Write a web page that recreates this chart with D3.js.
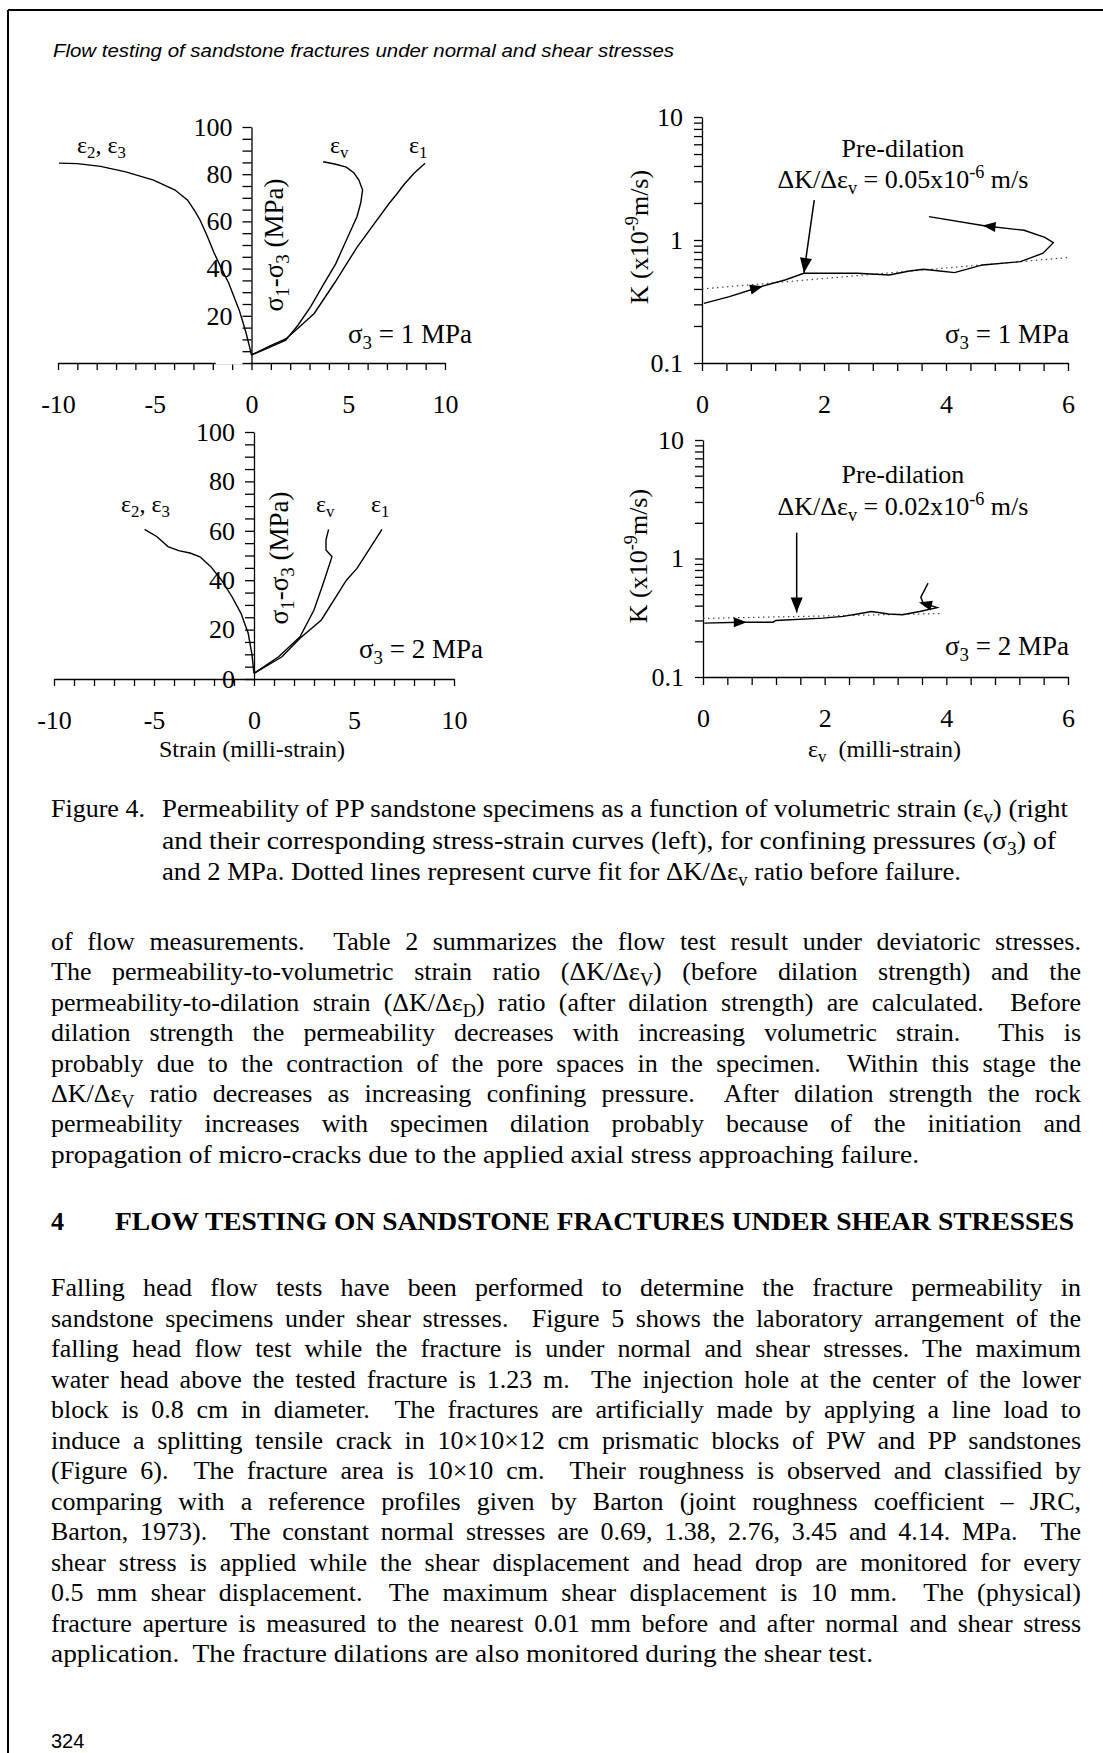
<!DOCTYPE html>
<html lang="en">
<head>
<meta charset="UTF-8">
<title>Figure 4 - Permeability of PP sandstone specimens</title>
<script src="https://d3js.org/d3.v7.min.js"></script>
<style>
  body { margin: 0; background: #fff; }
  svg { display: block; }
  text { font-family: "Liberation Serif", "Times New Roman", serif; fill: #000; white-space: pre; }
  .axis path, .axis line { stroke: #000; stroke-width: 1.3; }
  .axis text { font-family: "Liberation Serif", "Times New Roman", serif; font-size: 26px; }
  .curve { fill: none; stroke: #000; stroke-width: 1.4; }
  .fit { fill: none; stroke: #444; stroke-width: 1.2; stroke-dasharray: 1.5 3.5; }
  .body { font-size: 26px; }
  .header { font-family: "Liberation Sans", Arial, sans-serif; font-style: italic; font-size: 18px; }
</style>
</head>
<body>
<div id="page"></div>
<script>
// ---- axis ticks ----
const strainTicks = d3.range(-10, 11, 1);
const strainLabels = [-10, -5, 0, 5, 10];
const stressTicks = d3.range(0, 101, 5);
const stressLabelsTop = [20, 40, 60, 80, 100];
const stressLabelsBottom = [0, 20, 40, 60, 80, 100];
const evTicks = d3.range(0, 16).map(i => i * 0.4);
const evLabels = [0, 2, 4, 6];
const kTicks = [0.1, 1].flatMap(d => d3.range(1, 10).map(k => k * d)).concat([10]);
const kLabels = [0.1, 1, 10];

// ---- stress-strain curves, sigma3 = 1 MPa  [strain, sigma1-sigma3] ----
const s1Lateral = [[-9.95,84.7],[-9,84.5],[-7.8,83.3],[-6.5,81],[-5.06,77.5],[-3.95,73.3],[-3.3,69],[-2.9,64],
  [-2.66,60.6],[-2.3,54],[-1.93,46.6],[-1.55,40],[-1.18,33.9],[-0.9,28],[-0.64,22.5],[-0.45,17.5],[-0.28,12.7],[-0.12,7.5],[0,3.4]];
const s1Volumetric = [[0,3.4],[0.9,6.5],[1.77,9.7],[2.4,16],[3.06,23.9],[3.7,33],[4.35,42],[4.9,52],[5.45,62],
  [5.65,68],[5.74,73.3],[5.55,77.5],[5.3,80.5],[4.9,83],[4.3,84.3],[3.7,85.3]];
const s1Axial = [[0,3.4],[0.9,7],[1.77,10.2],[2.5,15.5],[3.24,21],[4.3,34],[5.45,49],[6.3,58.5],[7.12,67.7],
  [7.5,71.5],[7.86,75.4],[8.4,80.4],[8.97,84.6]];
// scan gap in the strain axis of the upper plot [from, to]
const s1AxisGap = [-1.85, -0.05];

// ---- stress-strain curves, sigma3 = 2 MPa ----
const s2Lateral = [[-5.47,60.6],[-4.85,57.6],[-4.3,53.6],[-3.77,52],[-3.2,51],[-2.7,49.5],[-2.16,45.5],[-1.63,40.1],
  [-1.1,33.3],[-0.65,26.6],[-0.29,18.5],[-0.11,10.4],[0,2.3]];
const s2Volumetric = [[0,2.3],[1.23,9],[2.3,17.1],[3.0,27.9],[3.46,38.7],[3.9,49.5],[3.6,52.2],[3.6,56.3],[3.73,60.6]];
const s2Axial = [[0,2.3],[1.4,9],[2.3,16.5],[3.37,23.9],[4.62,40],[5.15,44.8],[6.4,60.6]];

// ---- permeability vs volumetric strain  [ev, K] ----
const k1Curve = [[0.03,0.305],[0.45,0.346],[0.96,0.417],[1.36,0.473],[1.67,0.536],[2.2,0.536],[2.55,0.536],[3.07,0.519],
  [3.4,0.56],[3.63,0.578],[3.9,0.56],[4.14,0.543],[4.6,0.627],[5.22,0.667],[5.59,0.78],[5.76,0.95],[5.62,1.05],
  [5.28,1.2],[4.65,1.3],[3.72,1.55]];
const k1Fit = [[0,0.40],[6,0.72]];
const k1Arrows = [[[0.7,0.385],[1.0,0.42]], [[5.0,1.25],[4.6,1.31]]];
const k1Pointer = [[1.84,2.11],[1.67,0.54]];

const k2Curve = [[0.02,0.285],[0.61,0.29],[1.15,0.29],[1.2,0.30],[1.97,0.314],[2.3,0.325],[2.54,0.34],[2.77,0.357],
  [3.05,0.34],[3.28,0.335],[3.56,0.357],[3.85,0.385],[3.62,0.42],[3.58,0.47],[3.7,0.62]];
const k2Fit = [[0,0.312],[3.9,0.343]];
const k2Arrows = [[[0.3,0.29],[0.72,0.29]], [[3.85,0.39],[3.55,0.425]]];
const k2Pointer = [[1.54,1.65],[1.54,0.35]];

// ---- page text ----
const captionLines = [
  "Permeability of PP sandstone specimens as a function of volumetric strain (ε_{v}) (right",
  "and their corresponding stress-strain curves (left), for confining pressures (σ_{3}) of",
  "and 2 MPa. Dotted lines represent curve fit for ΔK/Δε_{v} ratio before failure."
];
const para1 = [
  "of flow measurements.  Table 2 summarizes the flow test result under deviatoric stresses.",
  "The permeability-to-volumetric strain ratio (ΔK/Δε_{V}) (before dilation strength) and the",
  "permeability-to-dilation strain (ΔK/Δε_{D}) ratio (after dilation strength) are calculated.  Before",
  "dilation strength the permeability decreases with increasing volumetric strain.  This is",
  "probably due to the contraction of the pore spaces in the specimen.  Within this stage the",
  "ΔK/Δε_{V} ratio decreases as increasing confining pressure.  After dilation strength the rock",
  "permeability increases with specimen dilation probably because of the initiation and",
  "propagation of micro-cracks due to the applied axial stress approaching failure."
];
const para2 = [
  "Falling head flow tests have been performed to determine the fracture permeability in",
  "sandstone specimens under shear stresses.  Figure 5 shows the laboratory arrangement of the",
  "falling head flow test while the fracture is under normal and shear stresses. The maximum",
  "water head above the tested fracture is 1.23 m.  The injection hole at the center of the lower",
  "block is 0.8 cm in diameter.  The fractures are artificially made by applying a line load to",
  "induce a splitting tensile crack in 10×10×12 cm prismatic blocks of PW and PP sandstones",
  "(Figure 6).  The fracture area is 10×10 cm.  Their roughness is observed and classified by",
  "comparing with a reference profiles given by Barton (joint roughness coefficient – JRC,",
  "Barton, 1973).  The constant normal stresses are 0.69, 1.38, 2.76, 3.45 and 4.14. MPa.  The",
  "shear stress is applied while the shear displacement and head drop are monitored for every",
  "0.5 mm shear displacement.  The maximum shear displacement is 10 mm.  The (physical)",
  "fracture aperture is measured to the nearest 0.01 mm before and after normal and shear stress",
  "application.  The fracture dilations are also monitored during the shear test."
];

const W = 1103, H = 1753;
const svg = d3.select("#page").append("svg").attr("width", W).attr("height", H);

// page frame (cropped scan: only top and left edges visible)
svg.append("line").attr("x1", 8).attr("y1", 10).attr("x2", W).attr("y2", 10).attr("stroke", "#000").attr("stroke-width", 2);
svg.append("line").attr("x1", 8).attr("y1", 10).attr("x2", 8).attr("y2", H).attr("stroke", "#000").attr("stroke-width", 2);

// text with _{sub} and ^{sup} pieces
function rich(t, s, fs) {
  const parts = s.split(/(_\{[^}]*\}|\^\{[^}]*\})/).filter(p => p !== "");
  let cur = 0;
  parts.forEach(p => {
    let off = 0, txt = p, small = false;
    if (p.startsWith("_{")) { off = 0.22 * fs; txt = p.slice(2, -1); small = true; }
    else if (p.startsWith("^{")) { off = -0.4 * fs; txt = p.slice(2, -1); small = true; }
    const ts = t.append("tspan").attr("dy", off - cur).text(txt);
    if (small) ts.attr("font-size", fs * 0.7);
    cur = off;
  });
  return t;
}

function label(g, s, x, y, fs, anchor, rotate) {
  const t = g.append("text").attr("font-size", fs).attr("text-anchor", anchor || "start");
  if (rotate) t.attr("transform", `translate(${x},${y}) rotate(-90)`);
  else t.attr("x", x).attr("y", y);
  return rich(t, s, fs);
}

function bodyLine(s, x, y, width, justify, cls) {
  const t = svg.append("text").attr("class", cls || "body").attr("x", x).attr("y", y);
  const fs = parseFloat(getComputedStyle(t.node()).fontSize);
  rich(t, s, fs);
  const w = t.node().getComputedTextLength();
  if (justify) {
    const n = (s.match(/ /g) || []).length;
    t.attr("word-spacing", (width - w) / n);
  } else if (width) {
    t.attr("textLength", width).attr("lengthAdjust", "spacingAndGlyphs");
  }
}

function arrowHead(g, p1, p2, len, half) {
  const a = Math.atan2(p2[1] - p1[1], p2[0] - p1[0]);
  const bx = p2[0] - len * Math.cos(a), by = p2[1] - len * Math.sin(a);
  const pts = [p2, [bx + half * Math.sin(a), by - half * Math.cos(a)], [bx - half * Math.sin(a), by + half * Math.cos(a)]];
  g.append("path").attr("d", "M" + pts.join("L") + "Z").attr("fill", "#000");
}

function strainChart(o) {
  const x = d3.scaleLinear().domain([-10, 10]).range(o.xr);
  const y = d3.scaleLinear().domain([0, 100]).range(o.yr);
  const g = svg.append("g");
  g.append("g").attr("class", "axis").attr("transform", `translate(0,${y(0)})`)
    .call(d3.axisBottom(x).tickValues(strainTicks).tickSize(7).tickSizeOuter(0).tickPadding(25)
      .tickFormat(d => strainLabels.includes(d) ? d : ""));
  if (o.gap) {
    g.append("line").attr("x1", x(o.gap[0])).attr("x2", x(o.gap[1])).attr("y1", y(0)).attr("y2", y(0))
      .attr("stroke", "#fff").attr("stroke-width", 3);
  }
  g.append("g").attr("class", "axis").attr("transform", `translate(${x(0)},0)`)
    .call(d3.axisLeft(y).tickValues(stressTicks).tickSize(9).tickSizeOuter(0).tickPadding(10)
      .tickFormat(d => o.yLabels.includes(d) ? d : ""));
  const line = d3.line().x(d => x(d[0])).y(d => y(d[1]));
  o.curves.forEach(c => g.append("path").attr("class", "curve").attr("d", line(c)));
  return g;
}

function kChart(o) {
  const x = d3.scaleLinear().domain([0, 6]).range(o.xr);
  const y = d3.scaleLog().domain([0.1, 10]).range(o.yr);
  const g = svg.append("g");
  g.append("g").attr("class", "axis").attr("transform", `translate(0,${o.yr[0]})`)
    .call(d3.axisBottom(x).tickValues(evTicks).tickSize(8).tickSizeOuter(0).tickPadding(24)
      .tickFormat(d => evLabels.some(v => Math.abs(v - d) < 1e-6) ? Math.round(d) : ""));
  g.append("g").attr("class", "axis").attr("transform", `translate(${o.xr[0]},0)`)
    .call(d3.axisLeft(y).tickValues(kTicks).tickSize(8).tickSizeOuter(0).tickPadding(11)
      .tickFormat(d => kLabels.some(v => Math.abs(v - d) < 1e-9) ? d3.format("~g")(d) : ""));
  const line = d3.line().x(d => x(d[0])).y(d => y(d[1]));
  g.append("path").attr("class", "fit").attr("d", line(o.fit));
  g.append("path").attr("class", "curve").attr("d", line(o.curve));
  const px = d => [x(d[0]), y(d[1])];
  o.arrows.forEach(a => arrowHead(g, px(a[0]), px(a[1]), 13, 5));
  g.append("line").attr("x1", x(o.pointer[0][0])).attr("y1", y(o.pointer[0][1]))
    .attr("x2", x(o.pointer[1][0])).attr("y2", y(o.pointer[1][1])).attr("stroke", "#000").attr("stroke-width", 1.5);
  arrowHead(g, px(o.pointer[0]), px(o.pointer[1]), 15, 6);
  return g;
}

// ---- header ----
const hdr = svg.append("text").attr("class", "header").attr("x", 53).attr("y", 57)
  .text("Flow testing of sandstone fractures under normal and shear stresses");
hdr.attr("textLength", 621).attr("lengthAdjust", "spacingAndGlyphs");

// ---- top-left: sigma3 = 1 MPa ----
const g1 = strainChart({ xr: [58, 445], yr: [363, 127], yLabels: stressLabelsTop, gap: s1AxisGap,
  curves: [s1Lateral, s1Volumetric, s1Axial] });
label(g1, "ε_{2}, ε_{3}", 77, 153, 24);
label(g1, "ε_{v}", 330, 153, 24);
label(g1, "ε_{1}", 409, 153, 24);
label(g1, "σ_{3} = 1 MPa", 348, 343, 27);
label(g1, "σ_{1}-σ_{3} (MPa)", 283, 245, 27, "middle", true);

// ---- bottom-left: sigma3 = 2 MPa ----
const g3 = strainChart({ xr: [54, 454], yr: [679, 432], yLabels: stressLabelsBottom,
  curves: [s2Lateral, s2Volumetric, s2Axial] });
label(g3, "ε_{2}, ε_{3}", 121, 512, 24);
label(g3, "ε_{v}", 316, 512, 24);
label(g3, "ε_{1}", 371, 512, 24);
label(g3, "σ_{3} = 2 MPa", 359, 658, 27);
label(g3, "σ_{1}-σ_{3} (MPa)", 288, 558, 27, "middle", true);
label(g3, "Strain (milli-strain)", 252, 757, 24, "middle");

// ---- top-right: K, sigma3 = 1 MPa ----
const g2 = kChart({ xr: [702, 1068], yr: [363, 117], curve: k1Curve, fit: k1Fit, arrows: k1Arrows, pointer: k1Pointer });
label(g2, "Pre-dilation", 903, 157, 26, "middle");
label(g2, "ΔK/Δε_{v} = 0.05x10^{-6} m/s", 903, 188, 26, "middle");
label(g2, "σ_{3} = 1 MPa", 1069, 343, 27, "end");
label(g2, "K (x10^{-9}m/s)", 648, 237, 26, "middle", true);

// ---- bottom-right: K, sigma3 = 2 MPa ----
const g4 = kChart({ xr: [703, 1068], yr: [677, 440], curve: k2Curve, fit: k2Fit, arrows: k2Arrows, pointer: k2Pointer });
label(g4, "Pre-dilation", 903, 483, 26, "middle");
label(g4, "ΔK/Δε_{v} = 0.02x10^{-6} m/s", 903, 515, 26, "middle");
label(g4, "σ_{3} = 2 MPa", 1069, 655, 27, "end");
label(g4, "K (x10^{-9}m/s)", 647, 556, 26, "middle", true);
label(g4, "ε_{v}  (milli-strain)", 808, 757, 24);

// ---- caption ----
svg.append("text").attr("class", "body").attr("x", 51).attr("y", 817).text("Figure 4.");
bodyLine(captionLines[0], 162, 817, 906, false);
bodyLine(captionLines[1], 162, 849, 894, false);
bodyLine(captionLines[2], 162, 880, 799, false);

// ---- paragraphs ----
const left = 51, right = 1081;
para1.forEach((s, i) => {
  const last = i === para1.length - 1;
  bodyLine(s, left, 950 + i * 30.4, last ? 868 : right - left, !last);
});
svg.append("text").attr("class", "body").attr("x", 51).attr("y", 1230).attr("font-weight", "bold").text("4");
const head = svg.append("text").attr("class", "body").attr("x", 115).attr("y", 1230).attr("font-weight", "bold")
  .text("FLOW TESTING ON SANDSTONE FRACTURES UNDER SHEAR STRESSES");
head.attr("textLength", 959).attr("lengthAdjust", "spacingAndGlyphs");
para2.forEach((s, i) => {
  const last = i === para2.length - 1;
  bodyLine(s, left, 1296 + i * 30.5, last ? 822 : right - left, !last);
});

svg.append("text").attr("class", "header").style("font-style", "normal").style("font-size", "20px")
  .attr("x", 51).attr("y", 1748).text("324");
</script>
</body>
</html>
